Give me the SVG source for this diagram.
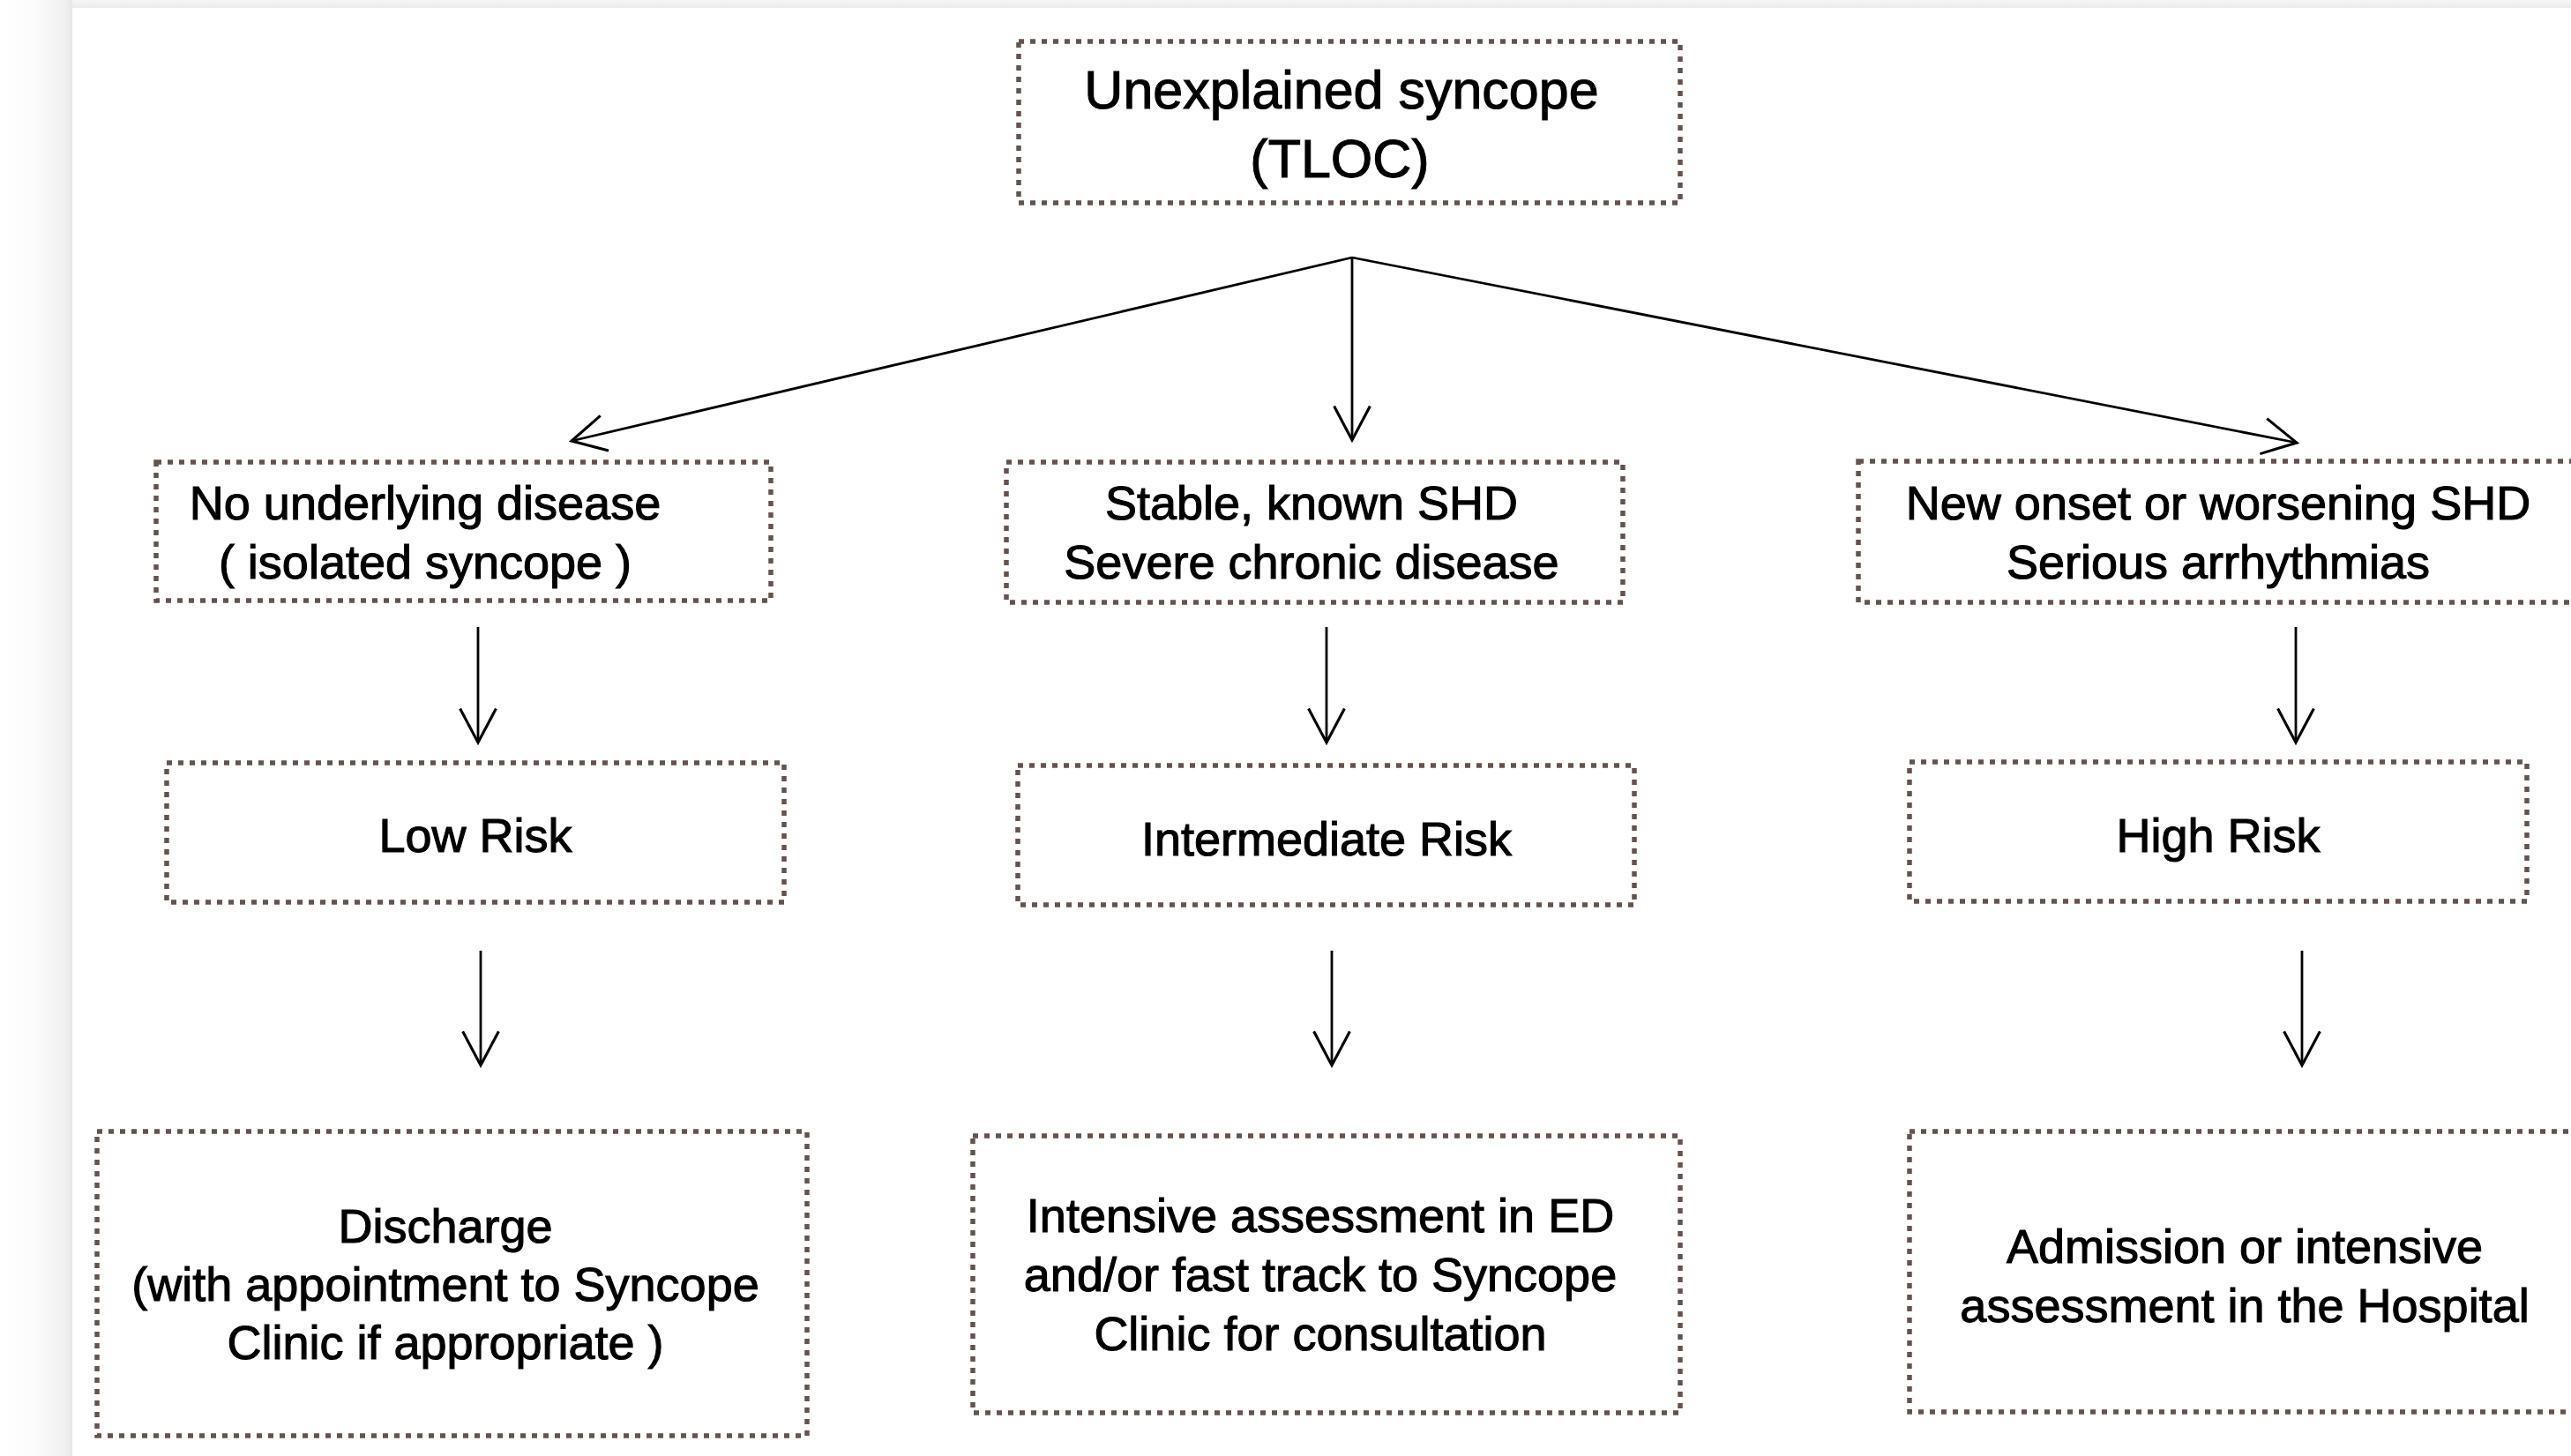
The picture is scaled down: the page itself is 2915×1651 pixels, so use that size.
<svg xmlns="http://www.w3.org/2000/svg" width="2915" height="1651" viewBox="0 0 2915 1651">
<defs>
<linearGradient id="shL" x1="0" y1="0" x2="1" y2="0">
<stop offset="0" stop-color="#ffffff"/>
<stop offset="0.5" stop-color="#fbfbfb"/>
<stop offset="0.9" stop-color="#f0f0f0"/>
<stop offset="1" stop-color="#e6e6e6"/>
</linearGradient>
<linearGradient id="shT" x1="0" y1="0" x2="0" y2="1">
<stop offset="0" stop-color="#f6f6f6"/>
<stop offset="1" stop-color="#ebebeb"/>
</linearGradient>
<marker id="arr" markerUnits="userSpaceOnUse" markerWidth="60" markerHeight="60" viewBox="-40 -25 50 50" refX="0" refY="0" orient="auto">
<path d="M-32,-17 L0,0 L-32,17" fill="none" stroke="#000" stroke-width="2.6"/>
</marker>
<style>
.box{fill:none;stroke:#63544f;stroke-width:5.5;stroke-dasharray:6 7}
.t{font-family:"Liberation Sans",Arial,sans-serif;font-size:54px;fill:#000;stroke:#000;stroke-width:1.1;text-anchor:middle}
.tt{font-size:61px}
.c{fill:none;stroke:#000;stroke-width:2.8}
</style>
</defs>
<rect x="0" y="0" width="2915" height="1651" fill="#ffffff"/>
<rect x="0" y="0" width="82" height="1651" fill="url(#shL)"/>
<rect x="82" y="0" width="2833" height="9" fill="url(#shT)"/>

<g id="connectors">
<line class="c" x1="1533" y1="292" x2="648" y2="500" marker-end="url(#arr)"/>
<line class="c" x1="1533" y1="292" x2="1533" y2="499" marker-end="url(#arr)"/>
<line class="c" x1="1533" y1="292" x2="2604" y2="502" marker-end="url(#arr)"/>
<line class="c" x1="542" y1="711" x2="542" y2="842" marker-end="url(#arr)"/>
<line class="c" x1="1504" y1="711" x2="1504" y2="842" marker-end="url(#arr)"/>
<line class="c" x1="2603" y1="711" x2="2603" y2="842" marker-end="url(#arr)"/>
<line class="c" x1="545" y1="1078" x2="545" y2="1208" marker-end="url(#arr)"/>
<line class="c" x1="1510" y1="1078" x2="1510" y2="1208" marker-end="url(#arr)"/>
<line class="c" x1="2610" y1="1078" x2="2610" y2="1208" marker-end="url(#arr)"/>
</g>

<g id="n-start">
<rect class="box" x="1155" y="47" width="750" height="183"/>
<text class="t tt" x="1521" y="123">Unexplained syncope</text>
<text class="t tt" x="1519" y="201">(TLOC)</text>
</g>

<g id="n-nodisease">
<rect class="box" x="177" y="524" width="697" height="157"/>
<text class="t" x="482" y="589">No underlying disease</text>
<text class="t" x="482" y="656">( isolated syncope )</text>
</g>

<g id="n-stable">
<rect class="box" x="1141" y="524" width="699" height="159"/>
<text class="t" x="1487" y="589">Stable, known SHD</text>
<text class="t" x="1487" y="656">Severe chronic disease</text>
</g>

<g id="n-new">
<rect class="box" x="2107" y="523" width="830" height="160"/>
<text class="t" x="2515" y="589">New onset or worsening SHD</text>
<text class="t" x="2515" y="656">Serious arrhythmias</text>
</g>

<g id="n-low">
<rect class="box" x="189" y="865" width="700" height="158"/>
<text class="t" x="539" y="966">Low Risk</text>
</g>

<g id="n-intermediate">
<rect class="box" x="1154" y="868" width="699" height="158"/>
<text class="t" x="1504" y="970">Intermediate Risk</text>
</g>

<g id="n-high">
<rect class="box" x="2165" y="864" width="700" height="158"/>
<text class="t" x="2515" y="966">High Risk</text>
</g>

<g id="n-discharge">
<rect class="box" x="110" y="1283" width="805" height="345"/>
<text class="t" x="505" y="1409">Discharge</text>
<text class="t" x="505" y="1475">(with appointment to Syncope</text>
<text class="t" x="505" y="1541">Clinic if appropriate )</text>
</g>

<g id="n-intensive">
<rect class="box" x="1103" y="1288" width="802" height="314"/>
<text class="t" x="1497" y="1397">Intensive assessment in ED</text>
<text class="t" x="1497" y="1464">and/or fast track to Syncope</text>
<text class="t" x="1497" y="1531">Clinic for consultation</text>
</g>

<g id="n-admission">
<rect class="box" x="2165" y="1283" width="772" height="318"/>
<text class="t" x="2545" y="1432">Admission or intensive</text>
<text class="t" x="2545" y="1499">assessment in the Hospital</text>
</g>
</svg>
